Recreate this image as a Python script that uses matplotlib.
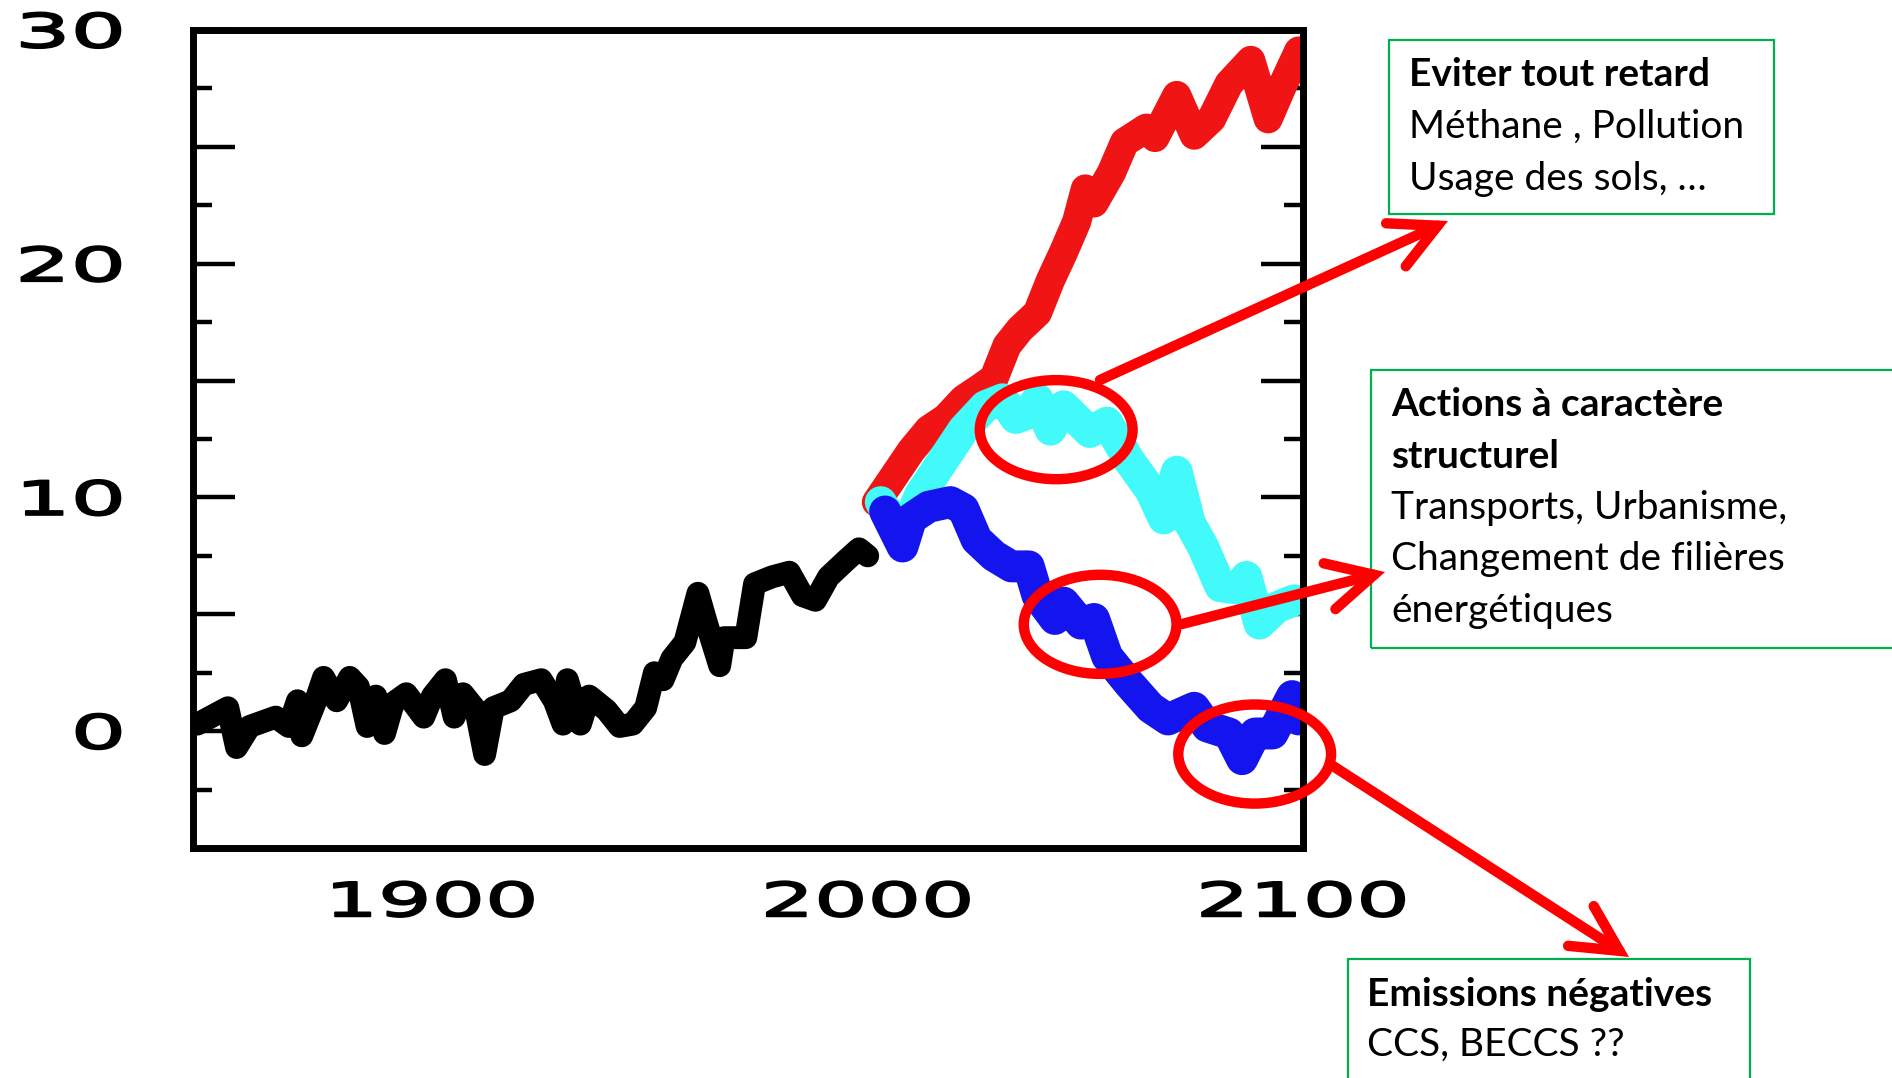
import matplotlib
matplotlib.use("Agg")
import matplotlib.pyplot as plt
from matplotlib.patches import Ellipse, Rectangle, FancyArrowPatch, ArrowStyle
from matplotlib.patheffects import AbstractPathEffect
from matplotlib.transforms import Affine2D

# ---------------- data ----------------
hist_years = [1846, 1849, 1853, 1855, 1858, 1861, 1864, 1867, 1869, 1870, 1873, 1875,
              1878, 1881, 1883, 1885, 1887, 1889, 1891, 1894, 1898, 1900, 1903, 1905,
              1907, 1910, 1912, 1914, 1918, 1921, 1925, 1928, 1930, 1931, 1934, 1936,
              1940, 1943, 1946, 1949, 1951, 1953, 1955, 1958, 1961, 1963, 1966, 1967,
              1972, 1974, 1978, 1982, 1985, 1988, 1991, 1995, 1998, 2000]
hist_vals = [0.3, 0.6, 1.0, -0.7, 0.2, 0.4, 0.6, 0.2, 1.3, -0.2, 1.2, 2.3,
             1.3, 2.3, 1.9, 0.2, 1.5, -0.1, 1.2, 1.6, 0.6, 1.5, 2.2, 0.6,
             1.6, 0.9, -1.0, 1.0, 1.3, 2.0, 2.2, 1.3, 0.3, 2.2, 0.3, 1.5,
             0.9, 0.2, 0.3, 1.0, 2.5, 2.2, 3.1, 3.8, 5.9, 4.6, 2.8, 4.0,
             4.0, 6.3, 6.6, 6.8, 5.8, 5.6, 6.6, 7.3, 7.8, 7.5]

red_years = [2002, 2006, 2010, 2014, 2018, 2022, 2026, 2029, 2032, 2035, 2039, 2042,
             2045, 2048, 2050, 2052, 2056, 2059, 2064, 2066, 2071, 2075, 2079, 2083,
             2088, 2092, 2095, 2099]
red_vals = [9.8, 10.9, 12.0, 12.9, 13.4, 14.2, 14.7, 15.1, 16.5, 17.2, 17.9, 19.3,
            20.5, 21.8, 23.2, 22.6, 23.9, 25.2, 25.8, 25.4, 27.2, 25.5, 26.2, 27.7,
            28.7, 26.2, 27.5, 29.1]

cyan_years = [2003, 2008, 2012, 2017, 2022, 2027, 2031, 2034, 2037, 2039, 2042, 2045,
              2051, 2055, 2060, 2065, 2068, 2071, 2074, 2077, 2081, 2085, 2087, 2090,
              2094, 2098]
cyan_vals = [9.8, 8.3, 10.1, 11.5, 12.9, 13.9, 14.2, 13.4, 13.6, 14.2, 12.9, 13.9,
             12.8, 13.2, 11.6, 10.3, 9.1, 11.1, 8.9, 7.9, 6.2, 6.1, 6.6, 4.6,
             5.3, 5.6]

blue_years = [2004, 2008, 2010, 2014, 2019, 2022, 2025, 2029, 2033, 2037, 2039, 2043,
              2045, 2049, 2052, 2055, 2060, 2065, 2069, 2075, 2078, 2083, 2086, 2089,
              2093, 2097.5, 2099]
blue_vals = [9.4, 7.9, 9.1, 9.6, 9.8, 9.5, 8.2, 7.5, 7.05, 7.05, 5.8, 4.8,
             5.5, 4.6, 4.8, 3.2, 2.05, 1.0, 0.5, 1.0, 0.2, -0.1, -1.2, -0.1,
             -0.1, 1.5, 0.5]

y_labelled = [0, 10, 20, 30]
x_labelled = [1900, 2000, 2100]

# annotation circles (data coordinates: centre year, centre value)
circle_centres = [(2043.3, 12.9), (2053.4, 4.57), (2088.9, -0.98)]

box1_lines = ["Eviter tout retard", "Méthane , Pollution", "Usage des sols, …"]
box2_lines = ["Actions à caractère", "structurel", "Transports, Urbanisme,",
              "Changement de filières", "énergétiques"]
box3_lines = ["Emissions négatives", "CCS, BECCS ??"]


class HStretch(AbstractPathEffect):
    """Stretch glyphs horizontally (the reference tick labels are very wide)
    and thicken them slightly with an outline of the same colour."""
    def __init__(self, sx, anchor="center", stroke=1.2):
        super().__init__()
        self.sx = sx
        self.anchor = anchor
        self.stroke = stroke

    def draw_path(self, renderer, gc, tpath, affine, rgbFace=None):
        ext = tpath.get_extents(affine)
        if self.anchor == "right":
            cx = ext.x1
        elif self.anchor == "left":
            cx = ext.x0
        else:
            cx = 0.5 * (ext.x0 + ext.x1)
        t = affine + Affine2D().translate(-cx, 0).scale(self.sx, 1.0).translate(cx, 0)
        gc0 = renderer.new_gc()
        gc0.copy_properties(gc)
        gc0.set_linewidth(self.stroke)
        if rgbFace is not None:
            gc0.set_foreground(rgbFace)
        gc0.set_joinstyle("round")
        renderer.draw_path(gc0, tpath, t, rgbFace)
        gc0.restore()


W, H = 1892, 1078
fig = plt.figure(figsize=(W / 100, H / 100), dpi=100)
ax = fig.add_axes([193 / W, 1 - 848 / H, (1303 - 193) / W, (848 - 30) / H])

ax.plot(hist_years, hist_vals, color="black", lw=16.5, solid_joinstyle="round",
        solid_capstyle="round", zorder=2)
ax.plot(red_years, red_vals, color="#F01414", lw=21, solid_joinstyle="round",
        solid_capstyle="round", zorder=3)
ax.plot(cyan_years, cyan_vals, color="#42FAFA", lw=23, solid_joinstyle="round",
        solid_capstyle="round", zorder=4)
ax.plot(blue_years, blue_vals, color="#1414EE", lw=23, solid_joinstyle="round",
        solid_capstyle="round", zorder=5)

ax.set_xlim(1845, 2100)
ax.set_ylim(-5, 30)

for s in ax.spines.values():
    s.set_linewidth(5)
    s.set_color("black")
    s.set_zorder(6)

major_y = [-5, 0, 5, 10, 15, 20, 25, 30]
ax.set_yticks(major_y)
ax.set_yticklabels([str(v) if v in y_labelled else "" for v in major_y])
ax.set_yticks([-2.5, 2.5, 7.5, 12.5, 17.5, 22.5, 27.5], minor=True)
ax.tick_params(axis="y", which="major", direction="in", length=30, width=3.2,
               left=True, right=True, pad=50, labelsize=34)
ax.tick_params(axis="y", which="minor", direction="in", length=14, width=3.2,
               left=True, right=True)
ax.set_xticks(x_labelled)
ax.set_xticklabels([str(v) for v in x_labelled])
ax.tick_params(axis="x", which="both", length=0, pad=24, labelsize=34)

for lab in ax.get_yticklabels():
    lab.set_fontfamily("DejaVu Sans")
    lab.set_path_effects([HStretch(1.85, "right", 1.3)])
for lab in ax.get_xticklabels():
    lab.set_fontfamily("DejaVu Sans")
    lab.set_path_effects([HStretch(1.78, "center", 1.3)])

# red ellipses
for (cx, cy) in circle_centres:
    e = Ellipse((cx, cy), 35.1, 4.24, fill=False, edgecolor="#FF0000", lw=7.5,
                zorder=8, clip_on=False)
    ax.add_patch(e)


def fpx(x, y):
    return (x / W, 1 - y / H)


# text boxes
green = "#00B050"
for (x0, y0, x1, y1) in [(1389, 40, 1774, 214), (1371, 370, 1900, 648),
                         (1348, 959, 1750, 1090)]:
    r = Rectangle(fpx(x0, y1), (x1 - x0) / W, (y1 - y0) / H, transform=fig.transFigure,
                  fill=False, edgecolor=green, lw=1.6, zorder=9, clip_on=False)
    fig.add_artist(r)

tfont = "Lato"
fs = 28


def put_lines(lines, x, ys, nbold):
    for i, (t, y) in enumerate(zip(lines, ys)):
        fig.text(*fpx(x, y), t, fontsize=fs, family=[tfont, "DejaVu Sans"],
                 fontweight="bold" if i < nbold else "normal",
                 ha="left", va="center", zorder=10)


put_lines(box1_lines, 1409, [75, 127, 179], 1)
put_lines(box2_lines, 1391, [405, 456, 508, 559, 611], 2)
put_lines(box3_lines, 1367, [995, 1045], 1)

# arrows
style = ArrowStyle("->", head_length=33, head_width=17)
for (a, b) in [((1100, 380), (1448, 221)), ((1182, 624), (1385, 572)),
               ((1333, 766), (1629, 957))]:
    arr = FancyArrowPatch(fpx(*a), fpx(*b), transform=fig.transFigure,
                          arrowstyle=style, mutation_scale=1, color="#FF0000",
                          lw=7.5, capstyle="round", joinstyle="miter",
                          shrinkA=0, shrinkB=0, zorder=11)
    fig.add_artist(arr)

fig.savefig("out.png", dpi=100)
